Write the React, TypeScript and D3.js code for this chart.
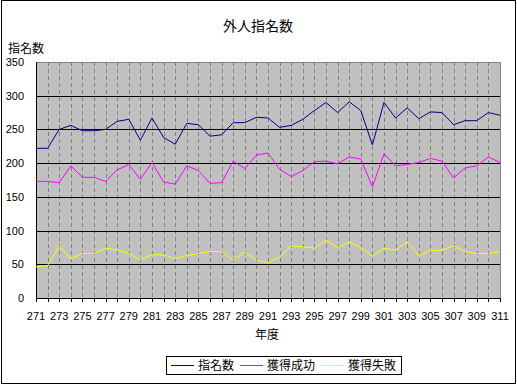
import React from 'react';
import * as d3 from 'd3';

const years: number[] = d3.range(271, 312);
const nominated = [222,222,250,256,248,248,250,262,265,234,267,238,228,259,257,240,242,260,260,268,267,253,256,265,278,290,275,291,278,227,290,267,282,266,276,275,257,263,263,275,271];
const success = [173,173,171,196,179,179,173,190,198,176,201,172,169,196,189,170,171,203,192,212,215,191,180,189,202,203,199,209,206,165,214,196,198,201,207,203,178,193,196,209,201];
const failure = [46,48,77,58,66,66,74,71,66,57,64,64,58,63,66,69,69,56,68,56,52,61,77,76,74,86,75,83,75,62,74,71,83,63,70,71,77,69,66,66,69];
const yTicks = [0, 50, 100, 150, 200, 250, 300, 350];
const xTickLabels = years.filter((y) => (y - 271) % 2 === 0);
const seriesNames = ['指名数', '獲得成功', '獲得失敗'];
const seriesColors = ['#000080', '#FF00FF', '#FFFF00'];

const W = 517, H = 385;
const L = 36, R = 500, T = 62, B = 298;
const CJK = '"Noto Sans CJK JP", sans-serif';
const NUM = '"Liberation Sans", Arial, sans-serif';

export default function App() {
  const x = d3.scaleLinear().domain([271, 311]).range([L, R]);
  const y = d3.scaleLinear().domain([0, 350]).range([B, T]);
  const line = d3.line<number>().x((_, i) => x(years[i])).y((d) => y(d));
  const series = [nominated, success, failure];
  const px = (v: number) => Math.round(v) + 0.5;

  const legendX = [171, 240, 321];
  const legendTextX = [198, 267, 348];

  return (
    <svg width={W} height={H} style={{ position: 'absolute', left: 0, top: 0 }}>
      <rect x={0} y={0} width={W} height={H} fill="#fff" />
      <rect x={1.5} y={0.5} width={514} height={383} fill="none" stroke="#000" />
      <text x={258} y={31} textAnchor="middle" fontFamily={CJK} fontSize={14}>外人指名数</text>
      <text x={8} y={53} fontFamily={CJK} fontSize={12}>指名数</text>

      <rect x={L} y={T} width={R - L} height={B - T} fill="#C0C0C0" />
      {years.slice(1, -1).map((yr) => (
        <line key={yr} x1={px(x(yr))} x2={px(x(yr))} y1={T} y2={B} stroke="#808080" strokeDasharray="4,3" shapeRendering="crispEdges" />
      ))}
      {yTicks.slice(1, -1).map((t) => (
        <line key={t} x1={L} x2={R} y1={px(y(t))} y2={px(y(t))} stroke="#000" shapeRendering="crispEdges" />
      ))}
      <polyline points={`${L},${T + 0.5} ${R + 0.5},${T + 0.5} ${R + 0.5},${B}`} fill="none" stroke="#808080" shapeRendering="crispEdges" />
      <line x1={L + 0.5} x2={L + 0.5} y1={T} y2={B + 1} stroke="#000" shapeRendering="crispEdges" />
      <line x1={L} x2={R + 1} y1={B + 0.5} y2={B + 0.5} stroke="#000" shapeRendering="crispEdges" />
      {years.map((yr) => (
        <line key={'t' + yr} x1={px(x(yr))} x2={px(x(yr))} y1={B} y2={B + 4} stroke="#000" shapeRendering="crispEdges" />
      ))}

      {series.map((s, i) => (
        <path key={i} d={line(s) || ''} fill="none" stroke={seriesColors[i]} strokeWidth={1} />
      ))}

      {yTicks.map((t) => (
        <text key={t} x={24} y={y(t) + 4} textAnchor="end" fontFamily={NUM} fontSize={11}>{t}</text>
      ))}
      {xTickLabels.map((yr) => (
        <text key={yr} x={x(yr)} y={320} textAnchor="middle" fontFamily={NUM} fontSize={11}>{yr}</text>
      ))}
      <text x={267} y={339} textAnchor="middle" fontFamily={CJK} fontSize={12}>年度</text>

      <rect x={166.5} y={356.5} width={235} height={18} fill="#fff" stroke="#000" shapeRendering="crispEdges" />
      {seriesNames.map((n, i) => (
        <g key={n}>
          <line x1={legendX[i]} x2={legendX[i] + 23} y1={365.5} y2={365.5} stroke={seriesColors[i]} shapeRendering="crispEdges" />
          <text x={legendTextX[i]} y={370} fontFamily={CJK} fontSize={12}>{n}</text>
        </g>
      ))}
    </svg>
  );
}
